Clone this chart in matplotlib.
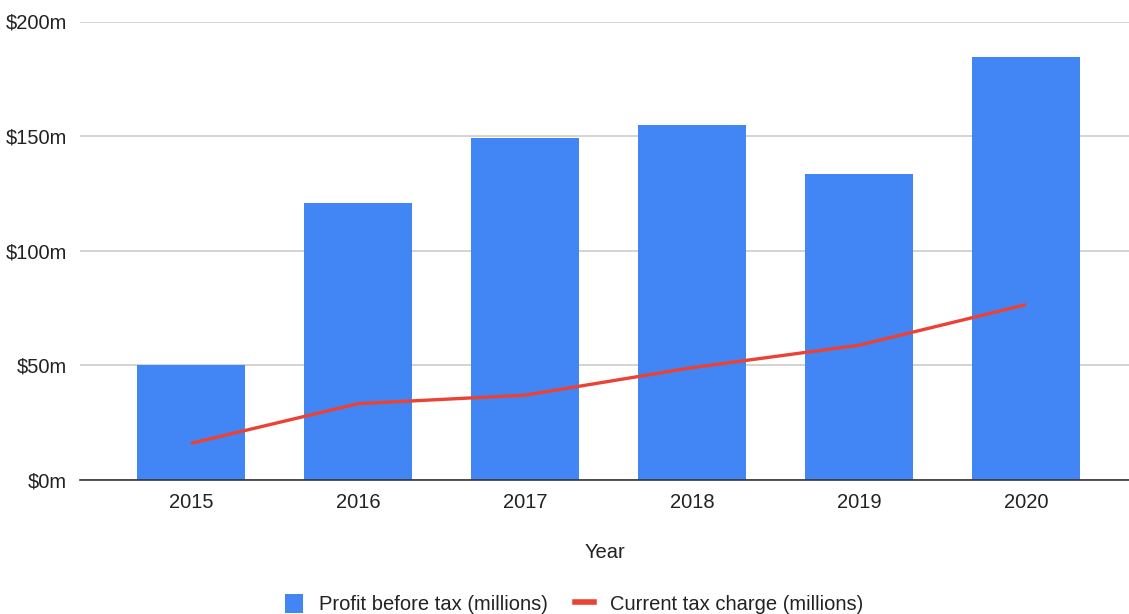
import matplotlib
matplotlib.use("Agg")
import matplotlib.pyplot as plt
from matplotlib.patches import Patch
from matplotlib.lines import Line2D
from matplotlib.ticker import FuncFormatter

years = ["2015", "2016", "2017", "2018", "2019", "2020"]
profit_before_tax = [50, 121, 149, 155, 133.5, 184.5]
current_tax_charge = [16, 33.3, 37, 49, 58.8, 76.5]
y_ticks = [0, 50, 100, 150, 200]

BLUE = "#4285F4"
RED = "#EA4335"
TXT = "#222222"
FS = 14.5

plt.rcParams["font.family"] = ["Liberation Sans", "DejaVu Sans"]

fig = plt.figure(figsize=(11.29, 6.14), dpi=100)
ax = fig.add_axes([80/1129, 1-480/614, 1-80/1129, (480-21.5)/614])

x = list(range(len(years)))
ax.bar(x, profit_before_tax, width=0.645, color=BLUE, zorder=2)
ax.plot(x, current_tax_charge, color=RED, lw=2.4, zorder=3, solid_capstyle="butt")

ax.set_xlim(-0.665, 5.617)
ax.set_ylim(0, 200)
ax.set_yticks(y_ticks)
ax.yaxis.set_major_formatter(FuncFormatter(lambda v, p: f"${v:.0f}m"))
ax.set_xticks(x)
ax.set_xticklabels(years)
ax.tick_params(axis="both", length=0, labelsize=FS, colors=TXT)
ax.tick_params(axis="y", pad=9.4)
ax.tick_params(axis="x", pad=9.5)
ax.grid(axis="y", color="#cccccc", lw=1.2, zorder=0)
ax.set_axisbelow(True)
for s in ["top", "right", "left"]:
    ax.spines[s].set_visible(False)
ax.spines["bottom"].set_color("#333333")
ax.spines["bottom"].set_linewidth(1.2)
ax.spines["bottom"].set_zorder(4)

ax.set_xlabel("Year", fontsize=FS, color=TXT)
ax.xaxis.set_label_coords(0.5, (480-553)/458.5)
ax.xaxis.label.set_verticalalignment("center")

handles = [Patch(facecolor=BLUE, edgecolor="none", label="Profit before tax (millions)"),
           Line2D([0], [0], color=RED, lw=4, label="Current tax charge (millions)")]
fig.legend(handles=handles, loc="center", bbox_to_anchor=(574/1129, 1-604/614), ncol=2,
           frameon=False, fontsize=FS, handlelength=0.9, handleheight=1.1,
           handletextpad=0.8, columnspacing=1.35, labelcolor=TXT)

fig.savefig("out.png", dpi=100, facecolor="white")
